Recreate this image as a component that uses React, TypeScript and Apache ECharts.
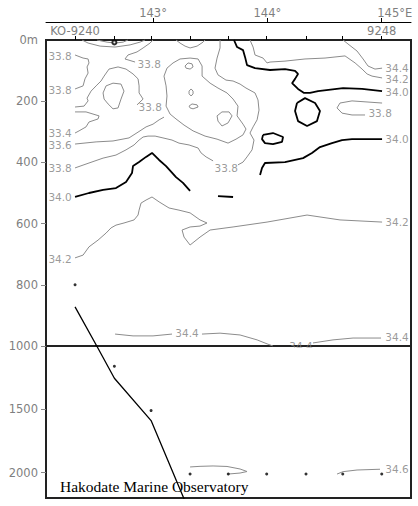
import React, { useEffect, useRef } from 'react';
import * as echarts from 'echarts';

type P = [number, number];

const XMIN = 142.064;
const XMAX = 145.256;

const lonTicks = [143, 144, 145];
const lonLabels = ['143°', '144°', '145°E'];
const stationLon = [142.318, 142.662, 142.983, 143.324, 143.658, 143.994, 144.338, 144.659, 145.0];
const stationFirst = 'KO-9240';
const stationLast = '9248';
const sampleDepth = [800, 1160, 1510, 2010, 2010, 2010, 2010, 2010, 2010];
const markerLon = [142.662];
const markerDepth = [8];
const bottomLon = [142.318, 142.508, 142.662, 142.983, 143.324];
const bottomDepth = [872, 1000, 1255, 1589, 2320];
const upperTickDepths = [200, 400, 600, 800, 1000];
const upperLabelDepths = [0, 200, 400, 600, 800, 1000];
const lowerTickDepths = [1000, 1500, 2000];
const lowerLabelDepths = [1500, 2000];

// thin contours (lon, depth)
const surfaceOuter: P[] = [[142.379, 0], [142.432, 10], [142.537, 20], [142.668, 23], [142.799, 16], [142.886, 7], [142.93, 0]];
const surfaceInner: P[] = [[142.51, 0], [142.598, 7], [142.668, 10], [142.738, 7], [142.781, 0]];
const surfaceMid: P[] = [[143.201, 0], [143.236, 10], [143.28, 20], [143.324, 26], [143.385, 20], [143.437, 7], [143.455, 0]];
const c338Bulge: P[] = [[142.318, 49], [142.388, 59], [142.432, 62], [142.44, 75], [142.423, 88], [142.432, 108], [142.405, 127], [142.388, 150], [142.318, 160]];
const c338Top: P[] = [[143.0, 0], [142.974, 10], [142.913, 26], [142.86, 39], [142.781, 49], [142.755, 62], [142.843, 72]];
const c338Upper: P[] = [[142.318, 219], [142.397, 216], [142.432, 199], [142.423, 190], [142.458, 167], [142.502, 150], [142.545, 134], [142.572, 118], [142.615, 95], [142.694, 88], [142.764, 95], [142.825, 111], [142.869, 127], [142.878, 150], [142.878, 173], [142.913, 193], [142.86, 212]];
const c338Pocket: P[] = [[142.589, 150], [142.65, 141], [142.72, 144], [142.746, 167], [142.72, 193], [142.694, 222], [142.65, 225], [142.607, 209], [142.572, 193], [142.563, 173], [142.589, 150]];
const c334: P[] = [[142.318, 235], [142.414, 235], [142.528, 248], [142.519, 258], [142.44, 268], [142.414, 284], [142.353, 297], [142.318, 304]];
const c336: P[] = [[142.318, 340], [142.502, 333], [142.65, 330], [142.79, 320], [142.886, 297], [142.939, 284], [143.0, 275], [143.053, 261], [143.096, 252]];
const c338Core: P[] = [[143.175, 75], [143.236, 62], [143.324, 59], [143.394, 62], [143.429, 85], [143.429, 118], [143.499, 141], [143.568, 157], [143.647, 173], [143.7, 193], [143.743, 216], [143.735, 248], [143.787, 275], [143.813, 291], [143.787, 310], [143.726, 324], [143.656, 337], [143.56, 324], [143.455, 314], [143.35, 297], [143.271, 278], [143.201, 258], [143.149, 242], [143.114, 216], [143.122, 183], [143.114, 150], [143.096, 118], [143.122, 92], [143.175, 75]];
const loopA: P[] = [[143.28, 85], [143.306, 75], [143.341, 78], [143.35, 88], [143.324, 95], [143.289, 92], [143.28, 85]];
const loopB: P[] = [[143.315, 167], [143.333, 160], [143.35, 167], [143.35, 176], [143.333, 183], [143.315, 176], [143.315, 167]];
const loopC: P[] = [[143.315, 216], [143.341, 209], [143.385, 212], [143.394, 219], [143.35, 225], [143.324, 222], [143.315, 216]];
const loopD: P[] = [[143.56, 248], [143.603, 235], [143.665, 235], [143.691, 248], [143.656, 271], [143.603, 281], [143.568, 265], [143.56, 248]];
const c338Deep: P[] = [[142.318, 418], [142.44, 402], [142.563, 386], [142.676, 376], [142.764, 359], [142.834, 343], [142.878, 327], [142.913, 317], [142.956, 314], [143.018, 314], [143.087, 320], [143.166, 327], [143.227, 337], [143.315, 343], [143.394, 353], [143.42, 369], [143.464, 382], [143.525, 395]];
const c338Rise: P[] = [[143.743, 408], [143.787, 399], [143.822, 382], [143.866, 359], [143.883, 327], [143.848, 304], [143.875, 284], [143.91, 261], [143.927, 229], [143.918, 196], [143.892, 173], [143.813, 157], [143.761, 144], [143.7, 134], [143.638, 131], [143.568, 114], [143.542, 92], [143.56, 59], [143.586, 26], [143.586, 0]];
const c342Top: P[] = [[143.848, 0], [143.875, 23], [143.892, 49], [143.962, 59], [143.997, 75], [144.023, 72], [144.154, 69], [144.329, 62], [144.504, 59], [144.679, 52], [144.767, 75], [144.828, 95], [144.872, 111], [144.915, 118], [145.003, 124]];
const c344Top: P[] = [[144.662, 0], [144.705, 13], [144.784, 36], [144.837, 62], [144.88, 85], [144.941, 95], [145.003, 92]];
const c338East: P[] = [[145.003, 206], [144.74, 199], [144.635, 206], [144.609, 222], [144.653, 239], [144.74, 245], [144.854, 245]];
const c342Mid: P[] = [[142.318, 712], [142.388, 703], [142.44, 676], [142.519, 654], [142.589, 631], [142.633, 614], [142.676, 605], [142.746, 598], [142.834, 588], [142.869, 572], [142.878, 556], [142.895, 533], [142.939, 523], [142.991, 513], [143.053, 529], [143.14, 549], [143.227, 556], [143.324, 565], [143.411, 588], [143.472, 598], [143.411, 608], [143.324, 611], [143.254, 621], [143.271, 644], [143.324, 670], [143.411, 644], [143.499, 621], [143.7, 611], [143.997, 595], [144.347, 572], [144.635, 588], [145.003, 595]];
const c344West: P[] = [[142.668, 961], [142.825, 967], [143.0, 967], [143.166, 961]];
const c344Mid: P[] = [[143.428, 961], [143.586, 958], [143.761, 964], [143.91, 980], [143.997, 993], [144.049, 1000]];
const c344East: P[] = [[144.399, 990], [144.574, 980], [144.749, 974], [144.994, 974]];
const c346West: P[] = [[143.324, 1955], [143.411, 1950], [143.525, 1947], [143.647, 1951], [143.761, 1971], [143.822, 1991], [143.761, 2003], [143.656, 2011]];
const c346East: P[] = [[144.609, 2011], [144.662, 1992], [144.784, 1979], [144.985, 1973]];

// thick 34.0 contours
const t340North: P[] = [[143.708, 0], [143.735, 23], [143.787, 33], [143.805, 56], [143.822, 82], [143.892, 92], [144.023, 98], [144.154, 95], [144.242, 101], [144.268, 111], [144.242, 127], [144.216, 141], [144.268, 160], [144.321, 173], [144.373, 173], [144.443, 167], [144.662, 157], [144.828, 160], [145.003, 167]];
const t340Cell: P[] = [[144.259, 206], [144.329, 190], [144.417, 206], [144.46, 232], [144.434, 265], [144.347, 281], [144.268, 265], [144.242, 232], [144.259, 206]];
const t340Eddy: P[] = [[143.962, 310], [144.049, 304], [144.137, 317], [144.128, 333], [144.049, 340], [143.979, 337], [143.953, 324], [143.962, 310]];
const t340South: P[] = [[143.936, 441], [143.953, 418], [143.979, 402], [144.154, 399], [144.312, 386], [144.39, 369], [144.46, 350], [144.565, 337], [144.653, 327], [144.74, 324], [145.003, 324]];
const t340West: P[] = [[142.318, 513], [142.44, 500], [142.563, 490], [142.676, 484], [142.764, 464], [142.816, 435], [142.825, 412], [142.878, 399], [142.939, 382], [142.991, 369], [143.053, 392], [143.114, 412], [143.201, 448], [143.262, 467], [143.324, 493]];
const t340Dash: P[] = [[143.568, 510], [143.7, 513]];

const thinUpper: P[][] = [surfaceOuter, surfaceInner, surfaceMid, c338Bulge, c338Top, c338Upper, c338Pocket, c334, c336, c338Core, loopA, loopB, loopC, loopD, c338Deep, c338Rise, c342Top, c344Top, c338East, c342Mid, c344West, c344Mid, c344East];
const thickUpper: P[][] = [t340North, t340Cell, t340Eddy, t340South, t340West, t340Dash];
const thinLower: P[][] = [c346West, c346East];

// contour labels
const leftLabelLon = 142.187;
const rightLabelLon = 145.134;
const leftLabelText = ['33.8', '33.8', '33.4', '33.6', '33.8', '34.0', '34.2'];
const leftLabelDepth = [52, 164, 304, 343, 418, 513, 716];
const rightLabelText = ['34.4', '34.2', '34.0', '34.0', '34.2', '34.4'];
const rightLabelDepth = [92, 128, 170, 324, 595, 971];
const innerLabelText = ['33.8', '33.8', '33.8', '33.8', '34.4', '34.4'];
const innerLabelLon = [142.966, 142.975, 143.64, 144.986, 143.297, 144.294];
const innerLabelDepth = [78, 219, 418, 239, 958, 1000];
const lowerLabelText = ['34.6'];
const lowerLabelLon = [145.134];
const lowerLabelDepth = [1971];

const GRAY = '#7f7f7f';
const FONT = 'DejaVu Sans';

export default function App() {
  const ref = useRef<HTMLDivElement>(null);
  useEffect(() => {
    if (!ref.current) return;
    const chart = echarts.init(ref.current, undefined, { renderer: 'svg' });

    const line = (data: P[], g: number, thick: boolean) => ({
      type: 'line', xAxisIndex: g, yAxisIndex: g, data, symbol: 'none', showSymbol: false,
      silent: true, clip: true, z: thick ? 3 : 2,
      lineStyle: thick ? { color: '#000', width: 1.8 } : { color: '#8c8c8c', width: 1 },
    });
    const labels = (texts: string[], lons: number[], depths: number[], g: number) => ({
      type: 'scatter', xAxisIndex: g, yAxisIndex: g, symbolSize: 1, silent: true, clip: false, z: 5,
      itemStyle: { color: 'rgba(0,0,0,0)' },
      label: { show: true, position: 'inside', formatter: '{b}', color: GRAY, fontSize: 10.5, fontFamily: FONT },
      data: texts.map((t, i) => ({ name: t, value: [lons[i], depths[i]] })),
    });
    const dots = stationLon.map((x, i) => [x, sampleDepth[i]]);
    const bottom = bottomLon.map((x, i) => [x, bottomDepth[i]]);
    const marker = markerLon.map((x, i) => [x, markerDepth[i]]);

    const series: any[] = [
      ...thinUpper.map((d) => line(d, 0, false)),
      ...thickUpper.map((d) => line(d, 0, true)),
      ...thinLower.map((d) => line(d, 1, false)),
      { type: 'line', xAxisIndex: 0, yAxisIndex: 0, data: bottom, symbol: 'none', silent: true, clip: true, lineStyle: { color: '#000', width: 1.3 }, z: 4 },
      { type: 'line', xAxisIndex: 1, yAxisIndex: 1, data: bottom, symbol: 'none', silent: true, clip: true, lineStyle: { color: '#000', width: 1.3 }, z: 4 },
      { type: 'scatter', xAxisIndex: 0, yAxisIndex: 0, data: dots, symbolSize: 3, clip: true, silent: true, itemStyle: { color: '#000' }, z: 4 },
      { type: 'scatter', xAxisIndex: 1, yAxisIndex: 1, data: dots, symbolSize: 3, clip: true, silent: true, itemStyle: { color: '#000' }, z: 4 },
      { type: 'scatter', xAxisIndex: 0, yAxisIndex: 0, data: marker, symbol: 'emptyCircle', symbolSize: 4, clip: false, silent: true, itemStyle: { color: '#000', borderColor: '#000', borderWidth: 1 }, z: 4 },
      labels(leftLabelText, leftLabelText.map(() => leftLabelLon), leftLabelDepth, 0),
      labels(rightLabelText, rightLabelText.map(() => rightLabelLon), rightLabelDepth, 0),
      labels(innerLabelText, innerLabelLon, innerLabelDepth, 0),
      labels(lowerLabelText, lowerLabelLon, lowerLabelDepth, 1),
    ];

    const axisText = { color: GRAY, fontSize: 11.5, fontFamily: FONT };

    chart.setOption({
      animation: false,
      backgroundColor: '#fff',
      grid: [
        { left: 46, top: 40, width: 365, height: 306, show: true, borderColor: '#222', borderWidth: 2 },
        { left: 46, top: 346, width: 365, height: 152, show: true, borderColor: '#222', borderWidth: 2 },
      ],
      xAxis: [
        { type: 'value', gridIndex: 0, min: XMIN, max: XMAX, show: false },
        { type: 'value', gridIndex: 1, min: XMIN, max: XMAX, show: false },
        {
          type: 'value', gridIndex: 0, min: XMIN, max: XMAX, position: 'top', offset: 18,
          axisLine: { show: true, lineStyle: { color: '#000', width: 1 } },
          axisTick: { show: true, length: 4, customValues: lonTicks, lineStyle: { color: '#000' } },
          axisLabel: {
            ...axisText, margin: 3, customValues: lonTicks,
            formatter: (v: number) => {
              const i = lonTicks.indexOf(v);
              return i === lonTicks.length - 1 ? '{e|' + lonLabels[i] + '}' : lonLabels[i];
            },
            rich: { e: { ...axisText, padding: [0, 0, 0, 26] } },
          },
          splitLine: { show: false },
        },
        {
          type: 'value', gridIndex: 0, min: XMIN, max: XMAX, position: 'top', offset: 0,
          axisLine: { show: false },
          axisTick: { show: true, length: 4, customValues: stationLon, lineStyle: { color: '#000' } },
          axisLabel: {
            ...axisText, margin: 3, customValues: [stationLon[0], stationLon[stationLon.length - 1]],
            formatter: (v: number) => (Math.abs(v - stationLon[0]) < 1e-6 ? stationFirst : stationLast),
          },
          splitLine: { show: false },
        },
      ],
      yAxis: [
        {
          type: 'value', gridIndex: 0, inverse: true, min: 0, max: 1000, interval: 200,
          axisLine: { show: false },
          axisTick: { show: true, length: 5, customValues: upperTickDepths, lineStyle: { color: '#888' } },
          axisLabel: { ...axisText, margin: 8, customValues: upperLabelDepths, formatter: (v: number) => (v === 0 ? '0m' : String(v)) },
          splitLine: { show: false },
        },
        {
          type: 'value', gridIndex: 1, inverse: true, min: 1000, max: 2200, interval: 500,
          axisLine: { show: false },
          axisTick: { show: true, length: 5, customValues: lowerTickDepths, lineStyle: { color: '#888' } },
          axisLabel: { ...axisText, margin: 8, customValues: lowerLabelDepths, formatter: (v: number) => String(v) },
          splitLine: { show: false },
        },
      ],
      graphic: [
        { type: 'rect', shape: { x: 284, y: 347.5, width: 36, height: 8 }, style: { fill: '#fff' }, z: 100, silent: true },
        {
          type: 'text', left: 60, top: 478, z: 100, silent: true,
          style: { text: 'Hakodate Marine Observatory', font: '15.5px "Liberation Serif"', fill: '#000' },
        },
      ],
      series,
    });
    return () => chart.dispose();
  }, []);
  return <div ref={ref} style={{ position: 'absolute', left: 0, top: 0, width: 418, height: 506, background: '#fff' }} />;
}
